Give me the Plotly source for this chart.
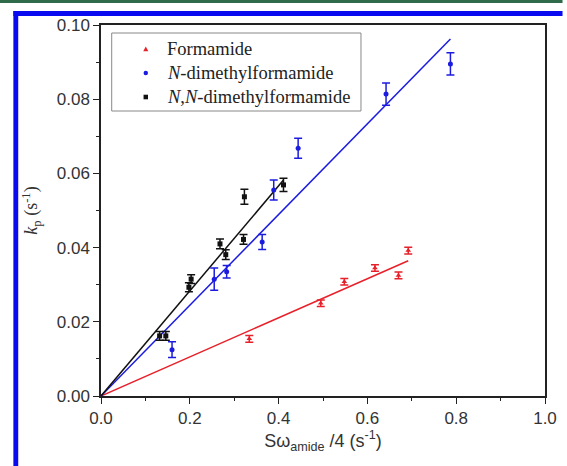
import plotly.graph_objects as go

# ---- data ----
form_x = [0.334, 0.495, 0.548, 0.617, 0.670, 0.692]
form_y = [0.0154, 0.0250, 0.0308, 0.0345, 0.0325, 0.0392]
form_err = [0.0009, 0.0009, 0.0009, 0.0009, 0.0009, 0.0009]
form_slope = 0.0527

dmf_x = [0.160, 0.255, 0.283, 0.363, 0.389, 0.444, 0.642, 0.787]
dmf_y = [0.0125, 0.0315, 0.0335, 0.0415, 0.0555, 0.0668, 0.0814, 0.0895]
dmf_err = [0.0021, 0.0030, 0.0017, 0.0020, 0.0027, 0.0027, 0.0030, 0.0030]
dmf_slope = 0.1223

nndmf_x = [0.132, 0.146, 0.198, 0.203, 0.268, 0.281, 0.321, 0.323, 0.411]
nndmf_y = [0.0162, 0.0162, 0.0293, 0.0315, 0.0410, 0.0381, 0.0422, 0.0537, 0.0569]
nndmf_err = [0.0012, 0.0012, 0.0012, 0.0012, 0.0013, 0.0013, 0.0013, 0.0020, 0.0018]
nndmf_slope = 0.1416

names = ["Formamide", "<i>N</i>-dimethylformamide", "<i>N</i>,<i>N</i>-dimethylformamide"]
colors = ["#e8202a", "#1c1ce0", "#111111"]
symbols = ["triangle-up", "circle", "square"]

x_ticks = [0.0, 0.2, 0.4, 0.6, 0.8, 1.0]
y_ticks = [0.00, 0.02, 0.04, 0.06, 0.08, 0.10]

series = [(form_x, form_y, form_err, form_slope),
          (dmf_x, dmf_y, dmf_err, dmf_slope),
          (nndmf_x, nndmf_y, nndmf_err, nndmf_slope)]

fig = go.Figure()
# fit lines
for (xs, ys, es, k), c in zip(series, colors):
    xe = max(xs)
    fig.add_trace(go.Scatter(x=[0, xe], y=[0, k * xe], mode="lines",
                             line=dict(color=c, width=1.5), showlegend=False,
                             hoverinfo="skip"))
# points
for (xs, ys, es, k), c, s, n in zip(series, colors, symbols, names):
    fig.add_trace(go.Scatter(x=xs, y=ys, mode="markers", name=n, showlegend=False,
                             marker=dict(color=c, symbol=s, size=5),
                             error_y=dict(type="data", array=es, color=c,
                                          thickness=1.5, width=4)))

L, R, T, B = 101, 10, 25, 70
W, H = 567, 466
pw, ph = W - L - R, H - T - B

def px(xp):
    return (xp - L) / pw

def py(yp):
    return (H - B - yp) / ph

shapes = [
    dict(type="rect", xref="paper", yref="paper", x0=px(-5), x1=px(575),
         y0=py(0), y1=py(3), fillcolor="#2f6b4a", line=dict(width=0), layer="below"),
    dict(type="rect", xref="paper", yref="paper", x0=px(11), x1=px(16),
         y0=py(11), y1=py(475), fillcolor="#0a0af0", line=dict(width=0), layer="below"),
    dict(type="rect", xref="paper", yref="paper", x0=px(11), x1=px(575),
         y0=py(11), y1=py(16), fillcolor="#0a0af0", line=dict(width=0), layer="below"),
    # legend box
    dict(type="rect", xref="paper", yref="paper", x0=px(112), x1=px(368),
         y0=py(111), y1=py(33), fillcolor="white", line=dict(color="#888", width=1)),
]

# legend keys and labels
key_x = 147
row_y = [49, 73, 97]
annotations = []
# triangle
ty = row_y[0]
shapes.append(dict(type="path", xref="paper", yref="paper",
                   path=f"M {px(key_x-2.6)},{py(ty+2.2)} L {px(key_x+2.6)},{py(ty+2.2)} L {px(key_x)},{py(ty-2.6)} Z",
                   fillcolor=colors[0], line=dict(width=0)))
# circle
cy = row_y[1]
shapes.append(dict(type="circle", xref="paper", yref="paper",
                   x0=px(key_x-2.3), x1=px(key_x+2.3), y0=py(cy+2.3), y1=py(cy-2.3),
                   fillcolor=colors[1], line=dict(width=0)))
# square
sy = row_y[2]
shapes.append(dict(type="rect", xref="paper", yref="paper",
                   x0=px(key_x-2.3), x1=px(key_x+2.3), y0=py(sy+2.3), y1=py(sy-2.3),
                   fillcolor=colors[2], line=dict(width=0)))
for n, ry in zip(names, row_y):
    annotations.append(dict(text=n, xref="paper", yref="paper", x=px(167), y=py(ry),
                            xanchor="left", yanchor="middle", showarrow=False,
                            font=dict(family="Liberation Serif", size=18.5, color="#222")))

axis_common = dict(showgrid=False, zeroline=False, showline=True, linecolor="#222",
                   linewidth=1.5, mirror=True, ticks="outside", ticklen=6,
                   tickwidth=1.3, tickcolor="#222",
                   tickfont=dict(family="Liberation Sans", size=17, color="#333"))

fig.update_layout(
    width=W, height=H,
    margin=dict(l=L, r=R, t=T, b=B),
    paper_bgcolor="white", plot_bgcolor="white",
    shapes=shapes, annotations=annotations,
    xaxis=dict(range=[0, 1.0], tickvals=x_ticks, ticktext=[f"{v:.1f}" for v in x_ticks],
               minor=dict(ticks="outside", ticklen=3, dtick=0.1, tickcolor="#222"),
               title=dict(text="Sω<sub>amide</sub> /4 (s<sup>-1</sup>)", standoff=7,
                          font=dict(family="Liberation Sans", size=18, color="#333")),
               **axis_common),
    yaxis=dict(range=[0, 0.10], tickvals=y_ticks, ticktext=[f"{v:.2f}" for v in y_ticks],
               minor=dict(ticks="outside", ticklen=3, dtick=0.01, tickcolor="#222"),
               title=dict(text="<i>k</i><sub>p</sub> (s<sup>-1</sup>)", standoff=14,
                          font=dict(family="Liberation Serif", size=18, color="#333")),
               **axis_common),
    showlegend=False,
)

fig.write_html("out.html")
